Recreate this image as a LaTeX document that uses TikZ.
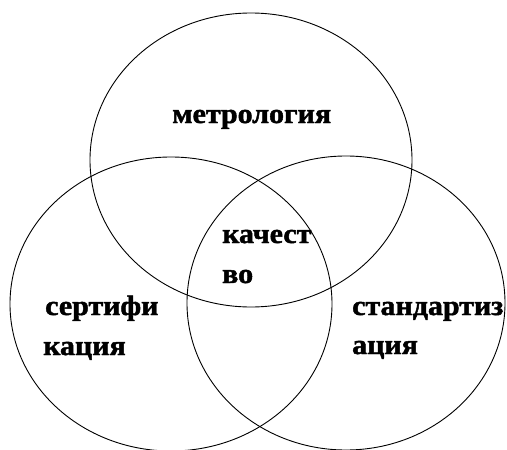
\documentclass[tikz,border=0pt]{standalone}
\usepackage{fontspec}
\setmainfont{Liberation Serif}
\newfontfamily\heavyfont[BoldFeatures={FakeBold=1.6}]{Liberation Serif}
\begin{document}
\begin{tikzpicture}[x=1pt,y=-1pt,
  ring/.style={draw=black,line width=0.9pt},
  lbl/.style={inner sep=0pt,anchor=base west,xscale=1.07,transform shape,
    font=\fontsize{28}{30}\selectfont\heavyfont\bfseries}]
\useasboundingbox (0,0) rectangle (507,450);
\draw[ring] (251,160) ellipse [x radius=161, y radius=147];
\draw[ring] (171,304) ellipse [x radius=161, y radius=147];
\draw[ring] (346,303) ellipse [x radius=159, y radius=147];
\node[lbl] (metr) at (172,123) {метрология};
\node[lbl] (kach1) at (222,243) {качест};
\node[lbl] (kach2) at (222,283) {во};
\node[lbl] (sert1) at (45,315) {сертифи};
\node[lbl] (sert2) at (43,355) {кация};
\node[lbl] (stand1) at (352,315) {стандартиз};
\node[lbl] (stand2) at (352,354) {ация};
\end{tikzpicture}
\end{document}
